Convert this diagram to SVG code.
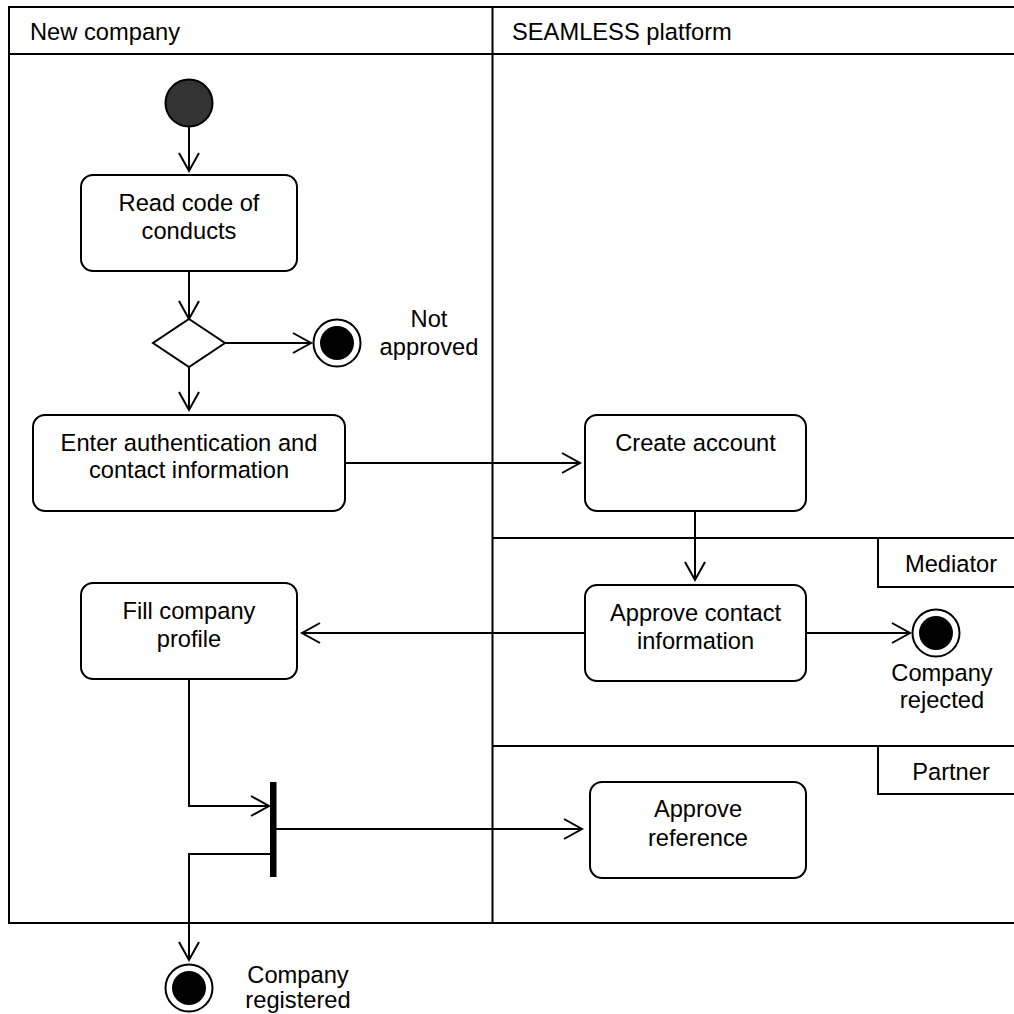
<svg xmlns="http://www.w3.org/2000/svg" width="1014" height="1014" viewBox="0 0 1014 1014">
<defs>
<marker id="open" markerUnits="userSpaceOnUse" markerWidth="24" markerHeight="24" viewBox="-20 -12 24 24" refX="0" refY="0" orient="auto">
<path d="M-18,-10 L0,0 L-18,10" fill="none" stroke="#000" stroke-width="2"/>
</marker>
</defs>
<style>
text{font-family:"Liberation Sans",Arial,Helvetica,sans-serif;font-size:23.7px;fill:#000}
.c{text-anchor:middle}
.ln{fill:none;stroke:#000;stroke-width:2}
.box{fill:#fff;stroke:#000;stroke-width:2}
.edge{fill:none;stroke:#000;stroke-width:2;marker-end:url(#open)}
</style>
<rect width="1014" height="1014" fill="#fff"/>
<g id="pool">
<rect x="9" y="7" width="1020" height="916" class="ln"/>
<line x1="9" y1="54" x2="1014" y2="54" class="ln"/>
<line x1="492.5" y1="7" x2="492.5" y2="923" class="ln"/>
<text x="30" y="40">New company</text>
<text x="512" y="40">SEAMLESS platform</text>
</g>
<g id="lane-mediator">
<line x1="492" y1="538" x2="1014" y2="538" class="ln"/>
<rect x="878" y="538" width="150" height="49" class="ln"/>
<text x="951" y="572" class="c">Mediator</text>
</g>
<g id="lane-partner">
<line x1="492" y1="746" x2="1014" y2="746" class="ln"/>
<rect x="878" y="746" width="150" height="48" class="ln"/>
<text x="951" y="780" class="c">Partner</text>
</g>
<g id="connectors">
<line x1="189" y1="127" x2="189" y2="171" class="edge"/>
<line x1="189" y1="271" x2="189" y2="319" class="edge"/>
<line x1="225" y1="343" x2="311" y2="343" class="edge"/>
<line x1="189" y1="367" x2="189" y2="410" class="edge"/>
<line x1="345" y1="463" x2="580" y2="463" class="edge"/>
<line x1="695" y1="511" x2="695" y2="580" class="edge"/>
<line x1="585" y1="633" x2="302" y2="633" class="edge"/>
<line x1="806" y1="633" x2="910" y2="633" class="edge"/>
<polyline points="189,679 189,806 269,806" class="edge"/>
<line x1="276" y1="829" x2="582" y2="829" class="edge"/>
<polyline points="270,854 189,854 189,960" class="edge"/>
</g>
<g id="start">
<circle cx="189" cy="103" r="23.5" fill="#333" stroke="#000" stroke-width="2"/>
</g>
<g id="read-code">
<rect x="81" y="175" width="216" height="96" rx="12" class="box"/>
<text x="189" y="211" class="c">Read code of</text>
<text x="189" y="238.5" class="c">conducts</text>
</g>
<g id="decision">
<polygon points="189,319 225,343 189,367 153,343" class="box"/>
</g>
<g id="end-not-approved">
<circle cx="337" cy="343" r="23.5" class="box"/>
<circle cx="337" cy="343" r="17" fill="#000"/>
<text x="429" y="327" class="c">Not</text>
<text x="429" y="355" class="c">approved</text>
</g>
<g id="enter-auth">
<rect x="33" y="415" width="312" height="96" rx="12" class="box"/>
<text x="189" y="450.5" class="c">Enter authentication and</text>
<text x="189" y="478" class="c">contact information</text>
</g>
<g id="create-account">
<rect x="585" y="415" width="221" height="96" rx="12" class="box"/>
<text x="695.5" y="450.5" class="c">Create account</text>
</g>
<g id="approve-contact">
<rect x="585" y="585" width="221" height="96" rx="12" class="box"/>
<text x="695.5" y="621" class="c">Approve contact</text>
<text x="695.5" y="648.5" class="c">information</text>
</g>
<g id="end-rejected">
<circle cx="936" cy="633" r="23.5" class="box"/>
<circle cx="936" cy="633" r="17" fill="#000"/>
<text x="942" y="681" class="c">Company</text>
<text x="942" y="708" class="c">rejected</text>
</g>
<g id="fill-profile">
<rect x="81" y="583" width="216" height="96" rx="12" class="box"/>
<text x="189" y="619" class="c">Fill company</text>
<text x="189" y="646.5" class="c">profile</text>
</g>
<g id="fork">
<rect x="270" y="782" width="6.5" height="95" fill="#000"/>
</g>
<g id="approve-reference">
<rect x="590" y="782" width="216" height="96" rx="12" class="box"/>
<text x="698" y="817" class="c">Approve</text>
<text x="698" y="845.5" class="c">reference</text>
</g>
<g id="end-registered">
<circle cx="189" cy="988" r="23.5" class="box"/>
<circle cx="189" cy="988" r="17" fill="#000"/>
<text x="298" y="983" class="c">Company</text>
<text x="298" y="1008" class="c">registered</text>
</g>
</svg>
